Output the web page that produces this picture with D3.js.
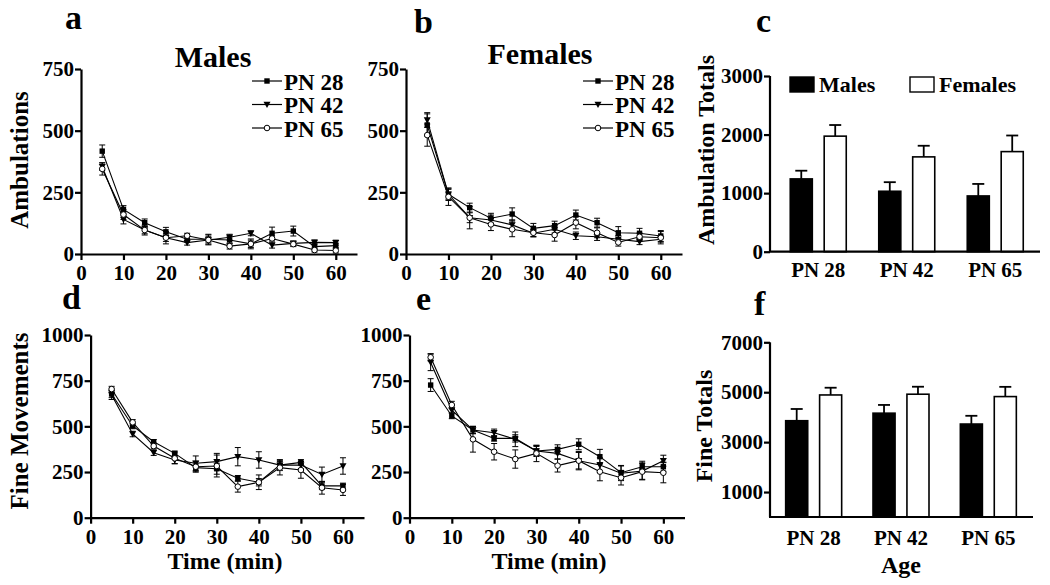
<!DOCTYPE html>
<html><head><meta charset="utf-8">
<script src="https://cdn.jsdelivr.net/npm/d3@7"></script>
<style>
body{margin:0;background:#fff}
svg text{font-family:"Liberation Serif","Times New Roman",serif;font-weight:bold;fill:#000}
</style>
</head><body>
<svg id="chart" width="1050" height="585"></svg>
<script>
// ---------- data ----------
const times = [5,10,15,20,25,30,35,40,45,50,55,60];
const timeTicks = [0,10,20,30,40,50,60];
const seriesNames = ["PN 28","PN 42","PN 65"];
const ambTicks = [0,250,500,750];
const fineTicks = [0,250,500,750,1000];

// a: Males ambulations
const ambMales28 = [417,181,127,90,60,60,57,41,84,93,30,34];
const ambMales28Sem = [25,15,15,18,12,20,15,15,25,20,12,10];
const ambMales42 = [354,140,97,66,46,57,68,84,36,43,47,46];
const ambMales42Sem = [15,18,15,15,10,12,12,10,12,10,10,10];
const ambMales65 = [345,160,97,66,74,57,32,41,63,40,16,14];
const ambMales65Sem = [25,20,20,25,10,20,12,20,10,10,8,10];

// b: Females ambulations
const ambFemales28 = [523,242,188,145,162,104,115,158,127,86,84,73];
const ambFemales28Sem = [45,25,18,20,25,20,18,20,18,25,20,22];
const ambFemales42 = [543,242,147,138,118,84,100,74,70,60,50,60];
const ambFemales42Sem = [30,20,20,20,20,15,15,15,15,15,12,12];
const ambFemales65 = [482,232,147,120,100,86,77,127,86,47,70,66];
const ambFemales65Sem = [45,35,45,25,30,15,25,25,20,15,15,25];

// d: Males fine movements
const fineMales28 = [677,502,416,352,274,268,216,194,288,303,174,174];
const fineMales28Sem = [20,15,12,12,20,30,15,20,20,15,20,15];
const fineMales42 = [672,458,356,316,298,307,334,316,288,288,237,283];
const fineMales42Sem = [25,15,15,20,40,45,50,45,30,20,40,45];
const fineMales65 = [704,522,392,325,279,283,170,194,274,261,164,152];
const fineMales65Sem = [15,15,15,30,30,60,30,40,40,45,35,30];

// e: Females fine movements
const fineFemales28 = [726,557,480,434,434,365,374,402,334,246,279,279];
const fineFemales28Sem = [35,15,20,15,20,25,25,30,40,40,30,25];
const fineFemales42 = [850,589,480,465,429,365,352,312,288,243,255,312];
const fineFemales42Sem = [45,15,20,20,40,30,30,45,40,40,45,30];
const fineFemales65 = [878,617,429,361,321,352,285,312,252,219,252,246];
const fineFemales65Sem = [20,20,70,45,50,45,35,50,50,40,45,55];

// c, f: totals
const ages = ["PN 28","PN 42","PN 65"];
const sexes = ["Males","Females"];
const ambTotalTicks = [0,1000,2000,3000];
const ambTotMales = [1243,1032,952];
const ambTotMalesSem = [140,155,205];
const ambTotFemales = [1973,1619,1709];
const ambTotFemalesSem = [190,190,275];
const fineTotalTicks = [1000,3000,5000,7000];
const fineTotMales = [3858,4160,3725];
const fineTotMalesSem = [470,330,330];
const fineTotFemales = [4890,4920,4825];
const fineTotFemalesSem = [290,300,390];

// ---------- drawing ----------
const svg = d3.select("#chart");
const AXW = 2.2;
const TICKFS = 21;
const fmt = d3.format("d");

function styleAxis(g, fs){
  g.selectAll("path.domain").attr("stroke","#000").attr("stroke-width",AXW);
  g.selectAll(".tick line").attr("stroke","#000").attr("stroke-width",AXW);
  g.selectAll(".tick text").attr("font-size",fs).attr("fill","#000")
    .style("font-family",'"Liberation Serif","Times New Roman",serif').style("font-weight","bold");
}

function marker(g, kind, x, y){
  if(kind===0){
    g.append("rect").attr("x",x-2.7).attr("y",y-2.7).attr("width",5.4).attr("height",5.4).attr("fill","#000");
  } else if(kind===1){
    g.append("path").attr("d",`M${x-3.5},${y-2.7}L${x+3.5},${y-2.7}L${x},${y+3.6}Z`).attr("fill","#000");
  } else {
    g.append("circle").attr("cx",x).attr("cy",y).attr("r",2.8).attr("fill","#fff").attr("stroke","#000").attr("stroke-width",1);
  }
}

function linePanel(cfg){
  const x = d3.scaleLinear().domain([0,65]).range(cfg.xr);
  const y = d3.scaleLinear().domain(cfg.yd).range(cfg.yr);
  const g = svg.append("g");
  const ya = g.append("g").attr("transform",`translate(${cfg.xr[0]},0)`)
    .call(d3.axisLeft(y).tickValues(cfg.yticks).tickFormat(fmt).tickSize(6).tickSizeOuter(0).tickPadding(1));
  styleAxis(ya, TICKFS);
  const xa = g.append("g").attr("transform",`translate(0,${cfg.yr[0]})`)
    .call(d3.axisBottom(x).tickValues(timeTicks).tickFormat(fmt).tickSize(6).tickSizeOuter(0).tickPadding(5));
  styleAxis(xa, TICKFS);
  cfg.series.forEach((s,k)=>{
    const sg = g.append("g");
    s.m.forEach((v,i)=>{
      const cx = x(times[i]);
      const y1 = y(v - s.e[i]), y2 = y(v + s.e[i]);
      sg.append("line").attr("x1",cx).attr("x2",cx).attr("y1",y1).attr("y2",y2).attr("stroke","#000").attr("stroke-width",1);
      [y1,y2].forEach(yy=>sg.append("line").attr("x1",cx-3).attr("x2",cx+3).attr("y1",yy).attr("y2",yy).attr("stroke","#000").attr("stroke-width",1));
    });
  });
  cfg.series.forEach((s,k)=>{
    const line = d3.line().x((d,i)=>x(times[i])).y(d=>y(d));
    g.append("path").datum(s.m).attr("d",line).attr("fill","none").attr("stroke","#000").attr("stroke-width",1.1);
  });
  cfg.series.forEach((s,k)=>{
    s.m.forEach((v,i)=>marker(g,k,x(times[i]),y(v)));
  });
  g.append("text").attr("x",cfg.letter[1]).attr("y",cfg.letter[2]).attr("font-size",34).text(cfg.letter[0]);
  if(cfg.title) g.append("text").attr("x",cfg.title[1]).attr("y",cfg.title[2]).attr("text-anchor","middle").attr("font-size",30).text(cfg.title[0]);
  if(cfg.ylab) g.append("text").attr("transform",`translate(${cfg.ylab[1]},${cfg.ylab[2]}) rotate(-90)`).attr("text-anchor","middle").attr("font-size",25).text(cfg.ylab[0]);
  if(cfg.xlab) g.append("text").attr("x",cfg.xlab[1]).attr("y",cfg.xlab[2]).attr("text-anchor","middle").attr("font-size",24).text(cfg.xlab[0]);
  if(cfg.legend){
    const [lx, ly] = cfg.legend;
    seriesNames.forEach((n,k)=>{
      const yy = ly + k*23.5;
      g.append("line").attr("x1",lx).attr("x2",lx+30).attr("y1",yy).attr("y2",yy).attr("stroke","#000").attr("stroke-width",1.2);
      marker(g,k,lx+15,yy);
      g.append("text").attr("x",lx+32).attr("y",yy+8.5).attr("font-size",23).text(n);
    });
  }
}

function barPanel(cfg){
  const x = d3.scaleBand().domain(ages).range(cfg.xr);
  const sub = d3.scaleBand().domain(sexes).range([-28,28]).paddingInner(0.35);
  const y = d3.scaleLinear().domain(cfg.yd).range(cfg.yr);
  const g = svg.append("g");
  const data = [cfg.males, cfg.females];
  const sems = [cfg.malesSem, cfg.femalesSem];
  sexes.forEach((s,k)=>{
    ages.forEach((a,i)=>{
      const cx = x(a) + x.bandwidth()/2;
      const bx = cx + sub(s);
      const bw = sub.bandwidth();
      const top = y(data[k][i]), et = y(data[k][i] + sems[k][i]);
      const mid = bx + bw/2;
      g.append("line").attr("x1",mid).attr("x2",mid).attr("y1",top).attr("y2",et).attr("stroke","#000").attr("stroke-width",1.8);
      g.append("line").attr("x1",mid-6).attr("x2",mid+6).attr("y1",et).attr("y2",et).attr("stroke","#000").attr("stroke-width",1.8);
      g.append("rect").attr("x",bx).attr("y",top).attr("width",bw).attr("height",cfg.yr[0]-top)
        .attr("fill",k===0?"#000":"#fff").attr("stroke","#000").attr("stroke-width",1.6);
    });
  });
  const ya = g.append("g").attr("transform",`translate(${cfg.axX},0)`)
    .call(d3.axisLeft(y).tickValues(cfg.yticks).tickFormat(fmt).tickSize(6).tickSizeOuter(0).tickPadding(1));
  styleAxis(ya, TICKFS);
  ya.select("path.domain").attr("d",`M0,${cfg.yr[0]}V${cfg.yr[1]}`);
  g.append("line").attr("x1",cfg.axX-1).attr("x2",cfg.axEnd).attr("y1",cfg.yr[0]).attr("y2",cfg.yr[0]).attr("stroke","#000").attr("stroke-width",AXW);
  ages.forEach(a=>{
    g.append("text").attr("x",x(a)+x.bandwidth()/2).attr("y",cfg.labY).attr("text-anchor","middle").attr("font-size",21).text(a);
  });
  g.append("text").attr("x",cfg.letter[1]).attr("y",cfg.letter[2]).attr("font-size",34).text(cfg.letter[0]);
  g.append("text").attr("transform",`translate(${cfg.ylab[1]},${cfg.ylab[2]}) rotate(-90)`).attr("text-anchor","middle").attr("font-size",24).text(cfg.ylab[0]);
  if(cfg.xlab) g.append("text").attr("x",cfg.xlab[1]).attr("y",cfg.xlab[2]).attr("text-anchor","middle").attr("font-size",24).text(cfg.xlab[0]);
  if(cfg.legend){
    const [lx, ly] = cfg.legend;
    sexes.forEach((s,k)=>{
      const ox = lx + k*120;
      g.append("rect").attr("x",ox).attr("y",ly).attr("width",24).attr("height",15)
        .attr("fill",k===0?"#000":"#fff").attr("stroke","#000").attr("stroke-width",1.4);
      g.append("text").attr("x",ox+29).attr("y",ly+15).attr("font-size",22).text(s);
    });
  }
}

linePanel({xr:[81,357], yd:[0,750], yr:[254,69], yticks:ambTicks,
  series:[{m:ambMales28,e:ambMales28Sem},{m:ambMales42,e:ambMales42Sem},{m:ambMales65,e:ambMales65Sem}],
  letter:["a",65,29], title:["Males",213,67], ylab:["Ambulations",28,160], legend:[252,81]});
linePanel({xr:[406,682], yd:[0,750], yr:[254,69], yticks:ambTicks,
  series:[{m:ambFemales28,e:ambFemales28Sem},{m:ambFemales42,e:ambFemales42Sem},{m:ambFemales65,e:ambFemales65Sem}],
  letter:["b",414,33], title:["Females",540,64], legend:[583,81]});
linePanel({xr:[90.6,364], yd:[0,1000], yr:[517.7,335], yticks:fineTicks,
  series:[{m:fineMales28,e:fineMales28Sem},{m:fineMales42,e:fineMales42Sem},{m:fineMales65,e:fineMales65Sem}],
  letter:["d",62,309], ylab:["Fine Movements",28,421], xlab:["Time (min)",225,569]});
linePanel({xr:[409.5,684.5], yd:[0,1000], yr:[517.7,335], yticks:fineTicks,
  series:[{m:fineFemales28,e:fineFemales28Sem},{m:fineFemales42,e:fineFemales42Sem},{m:fineFemales65,e:fineFemales65Sem}],
  letter:["e",416,310], xlab:["Time (min)",549,569]});

barPanel({xr:[774,1039.5], yd:[0,3000], yr:[251.7,76], yticks:ambTotalTicks, axX:770, axEnd:1040,
  males:ambTotMales, malesSem:ambTotMalesSem, females:ambTotFemales, femalesSem:ambTotFemalesSem,
  labY:277, letter:["c",756,32], ylab:["Ambulation Totals",714,150], legend:[790,77]});
barPanel({xr:[770,1032], yd:[0,7000], yr:[517,342.3], yticks:fineTotalTicks, axX:770, axEnd:1033,
  males:fineTotMales, malesSem:fineTotMalesSem, females:fineTotFemales, femalesSem:fineTotFemalesSem,
  labY:545, letter:["f",754,315], ylab:["Fine Totals",712,426], xlab:["Age",901,573]});
</script>
</body></html>
